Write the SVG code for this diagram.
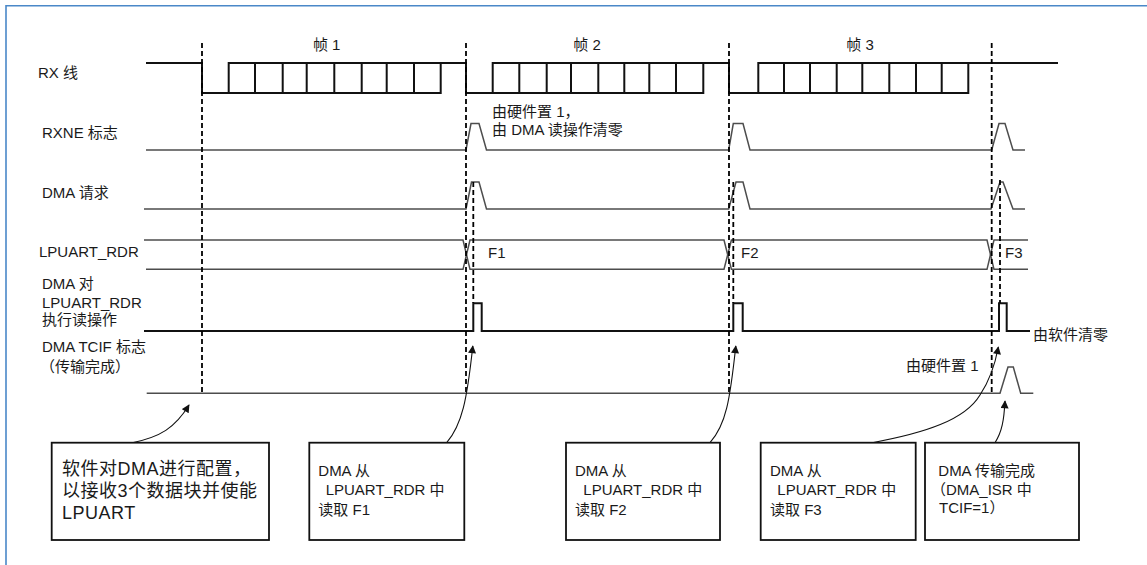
<svg xmlns="http://www.w3.org/2000/svg" width="1147" height="565" viewBox="0 0 1147 565">
<style>
text{font-family:"Liberation Sans","Noto Sans CJK SC",sans-serif;fill:#1a1a1a;font-size:15px}
.big{font-size:18px;letter-spacing:0.5px}
.sig{fill:none;stroke:#4d4d4d;stroke-width:1.5}
.thick{fill:none;stroke:#111;stroke-width:2}
.dash{fill:none;stroke:#000;stroke-width:1.8;stroke-dasharray:5 3}
.box{fill:#fff;stroke:#111;stroke-width:1.8}
.arr{fill:none;stroke:#111;stroke-width:1.1;marker-end:url(#ah)}
</style>
<defs>
<marker id="ah" viewBox="0 0 10 10" refX="9" refY="5" markerWidth="9" markerHeight="8" markerUnits="userSpaceOnUse" orient="auto">
<path d="M0,0 L10,5 L0,10 z" fill="#111"/>
</marker>
</defs>
<rect width="1147" height="565" fill="#fff"/>
<path d="M6,565 V5.7 H1147" fill="none" stroke="#4a88c8" stroke-width="1.6"/>

<g id="labels">
<text x="326.7" y="50" text-anchor="middle">帧 1</text>
<text x="587" y="50" text-anchor="middle">帧 2</text>
<text x="860" y="50" text-anchor="middle">帧 3</text>
<text x="38" y="78" font-size="15.5">RX 线</text>
<text x="42" y="138">RXNE 标志</text>
<text x="42" y="198">DMA 请求</text>
<text x="39" y="257" font-size="14">LPUART_RDR</text>
<text x="42" y="289">DMA 对</text>
<text x="42" y="308" font-size="14.5">LPUART_RDR</text>
<text x="42" y="325">执行读操作</text>
<text x="42" y="352">DMA TCIF 标志</text>
<text x="40" y="372">（传输完成）</text>
</g>

<g id="annotations">
<text x="492" y="117">由硬件置 1，</text>
<text x="492" y="135">由 DMA 读操作清零</text>
<text x="488" y="258">F1</text>
<text x="741" y="258">F2</text>
<text x="1005" y="258">F3</text>
<text x="1033" y="340">由软件清零</text>
<text x="906" y="371">由硬件置 1</text>
</g>

<g id="signals">
<g id="rx-line">
<path class="thick" d="M146,63 H202 V93 H440.7 V63 M228.7,93 V63 H466 V93 H703.3 V63 M492.7,93 V63 H729 V93 H968.3 V63 M758.3,93 V63 H1058"/>
<path class="thick" d="M255,63 V93 M282.7,63 V93 M306.7,63 V93 M334.3,63 V93 M361.7,63 V93 M386.7,63 V93 M414,63 V93 M519.3,63 V93 M546.7,63 V93 M571,63 V93 M598.3,63 V93 M624.3,63 V93 M649.3,63 V93 M676,63 V93 M784,63 V93 M810,63 V93 M836.7,63 V93 M862.3,63 V93 M889.3,63 V93 M916,63 V93 M941.7,63 V93"/>
</g>
<path id="rxne" class="sig" d="M146,150 H466 L471,123.5 H479 L486.5,150 H728.7 L733.3,123.5 H743 L750,150 H991.7 L999,123.5 H1005 L1013,150 H1025"/>
<path id="dmareq" class="sig" d="M144,209 H466 L471.5,182 H479 L486.5,209 H728.7 L736,182 H743 L750,209 H991 L1000,182 H1003 L1013,209 H1025"/>
<g id="rdr">
<path class="sig" d="M144,240 H463 L466.5,254.7 L463,269.3 H146"/>
<path class="sig" d="M470,240 H724 L727.7,254.7 L724,269.3 H470 L466.5,254.7 Z"/>
<path class="sig" d="M731.4,240 H987 L990.5,254.7 L987,269.3 H731.4 L727.7,254.7 Z"/>
<path class="sig" d="M1028,240 H994 L990.5,254.7 L994,269.3 H1028"/>
</g>
<path id="dmaread" class="thick" d="M144,331 H473.3 V303.3 H481.7 V331 H733.3 V303.3 H742.7 V331 H999 V303.3 H1006.7 V331 H1030"/>
<path id="tcif" class="sig" d="M146.7,393.3 H1000 L1008,367 H1013.3 L1020.7,393.3 H1033.3"/>
</g>

<g id="markers">
<path class="dash" d="M202,43 V393 M466,43 V393 M729,43 V393 M991.7,43 V393 M473.3,182 V303 M733.3,182 V303 M1000,180 V303"/>
</g>

<g id="connectors">
<path class="arr" d="M132.3,442.7 C160,437 175,428 189,405"/>
<path class="arr" d="M446.7,442.7 C462,425 467,400 472.8,346"/>
<path class="arr" d="M710,442.7 C726,425 730,400 735.8,346"/>
<path class="arr" d="M872.3,442.7 C925,433 965,420 980,395 C990,380 995,365 998.3,347"/>
<path class="arr" d="M995,442.7 C1002,432 1004,420 1005,401"/>
</g>

<g id="box1">
<rect class="box" x="51.7" y="442.7" width="217.3" height="97.3"/>
<text class="big" x="62" y="474.5">软件对DMA进行配置，</text>
<text class="big" x="62" y="497">以接收3个数据块并使能</text>
<text class="big" x="62" y="519">LPUART</text>
</g>
<g id="box2">
<rect class="box" x="309.3" y="442.7" width="155" height="97.3"/>
<text x="318.3" y="475.5">DMA 从</text>
<text x="325.7" y="495">LPUART_RDR 中</text>
<text x="318.3" y="515">读取 F1</text>
</g>
<g id="box3">
<rect class="box" x="566" y="442.7" width="154" height="97.3"/>
<text x="575" y="475.5">DMA 从</text>
<text x="583.3" y="495">LPUART_RDR 中</text>
<text x="575" y="515">读取 F2</text>
</g>
<g id="box4">
<rect class="box" x="760.7" y="442.7" width="155" height="97.3"/>
<text x="770" y="475.5">DMA 从</text>
<text x="777.3" y="495">LPUART_RDR 中</text>
<text x="770" y="515">读取 F3</text>
</g>
<g id="box5">
<rect class="box" x="925" y="442.7" width="154" height="97.3"/>
<text x="938.3" y="475.5">DMA 传输完成</text>
<text x="931" y="495">（DMA_ISR 中</text>
<text x="939" y="513">TCIF=1）</text>
</g>
</svg>
